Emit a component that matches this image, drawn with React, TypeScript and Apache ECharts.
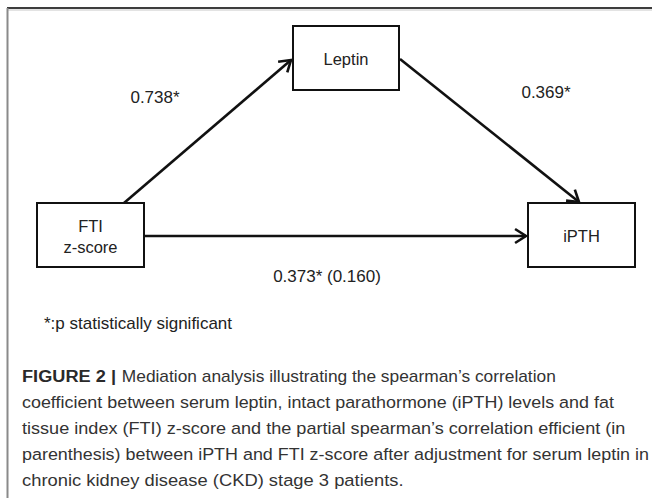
import React, { useEffect, useRef } from "react";
import * as echarts from "echarts";

// ---- content ----
const nodeNames = ["Leptin", "FTI\nz-score", "iPTH"];
const edgeFrom = [1, 0, 1];
const edgeTo = [0, 2, 2];
const edgeLabels = ["0.738*", "0.369*", "0.373* (0.160)"];
const footnote = "*:p statistically significant";
const captionBold = "FIGURE 2 |";
const captionLines = [
  " Mediation analysis illustrating the spearman\u2019s correlation",
  "coefficient between serum leptin, intact parathormone (iPTH) levels and fat",
  "tissue index (FTI) z-score and the partial spearman\u2019s correlation efficient (in",
  "parenthesis) between iPTH and FTI z-score after adjustment for serum leptin in",
  "chronic kidney disease (CKD) stage 3 patients.",
];

// ---- layout ----
const boxes = [
  { x: 293, y: 26, w: 106, h: 64 },
  { x: 37, y: 203, w: 107, h: 64 },
  { x: 528, y: 203, w: 107, h: 64 },
];
const edgePts = [
  [[124, 203], [291, 60]],
  [[400, 59], [579, 202]],
  [[144, 236], [526, 236]],
];
const edgeLabelPos = [
  [155, 97],
  [546, 92],
  [327, 276],
];
const captionScale = [1.02, 1.054, 1.064, 1.054, 1.08];
const FONT = "'Liberation Sans', Arial, Helvetica, sans-serif";

function head(from: number[], tip: number[], len: number, ang: number) {
  const a = Math.atan2(tip[1] - from[1], tip[0] - from[0]);
  return [
    [tip[0] - len * Math.cos(a - ang), tip[1] - len * Math.sin(a - ang)],
    [tip[0], tip[1]],
    [tip[0] - len * Math.cos(a + ang), tip[1] - len * Math.sin(a + ang)],
  ];
}

export default function App() {
  const ref = useRef<HTMLDivElement>(null);
  useEffect(() => {
    if (!ref.current) return;
    const chart = echarts.init(ref.current, undefined, { renderer: "svg" });
    const els: any[] = [];
    // frame
    els.push({ type: "line", shape: { x1: 7, y1: 8, x2: 652, y2: 8 }, style: { stroke: "#3d3d3d", lineWidth: 2 } });
    els.push({ type: "line", shape: { x1: 7, y1: 10, x2: 652, y2: 10 }, style: { stroke: "#c8c8c8", lineWidth: 1 } });
    els.push({ type: "line", shape: { x1: 7.5, y1: 8, x2: 7.5, y2: 498 }, style: { stroke: "#8a8a8a", lineWidth: 2 } });
    // edges
    edgeFrom.forEach((f, i) => {
      const [p0, p1] = edgePts[i];
      els.push({ type: "polyline", shape: { points: [p0, p1] }, style: { stroke: "#111", lineWidth: 2.6, fill: null } });
      els.push({
        type: "polyline",
        shape: { points: head(p0, p1, 13, Math.PI / 5.5) },
        style: { stroke: "#111", lineWidth: 2.6, fill: null, lineJoin: "miter" },
      });
      els.push({
        type: "text",
        x: edgeLabelPos[i][0],
        y: edgeLabelPos[i][1],
        style: { text: edgeLabels[i], fontSize: 17, fontFamily: FONT, fill: "#222", textAlign: "center", textVerticalAlign: "middle" },
      });
    });
    // nodes
    nodeNames.forEach((n, i) => {
      const b = boxes[i];
      els.push({
        type: "rect",
        shape: { x: b.x, y: b.y, width: b.w, height: b.h },
        style: { fill: "#fff", stroke: "#111", lineWidth: 2 },
      });
      els.push({
        type: "text",
        x: b.x + b.w / 2,
        y: b.y + b.h / 2 + 1,
        style: { text: n, fontSize: 16.5, lineHeight: 21, fontFamily: FONT, fill: "#222", textAlign: "center", textVerticalAlign: "middle" },
      });
    });
    els.push({
      type: "text",
      x: 44,
      y: 323,
      style: { text: footnote, fontSize: 17, fontFamily: FONT, fill: "#222", textAlign: "left", textVerticalAlign: "middle" },
    });
    els.push({
      type: "text",
      x: 22,
      y: 376,
      scaleX: 1.07,
      style: { text: captionBold, fontSize: 17, fontWeight: "bold", fontFamily: FONT, fill: "#2a2a2a", textAlign: "left", textVerticalAlign: "middle" },
    });
    captionLines.forEach((t, i) => {
      els.push({
        type: "text",
        x: i === 0 ? 117 : 22,
        y: 376 + i * 26,
        scaleX: captionScale[i],
        style: { text: t, fontSize: 17, fontFamily: FONT, fill: "#333", textAlign: "left", textVerticalAlign: "middle" },
      });
    });
    chart.setOption({ animation: false, backgroundColor: "#fff", graphic: { elements: els } });
    return () => chart.dispose();
  }, []);
  return <div ref={ref} style={{ position: "fixed", left: 0, top: 0, width: 652, height: 498, background: "#fff" }} />;
}
